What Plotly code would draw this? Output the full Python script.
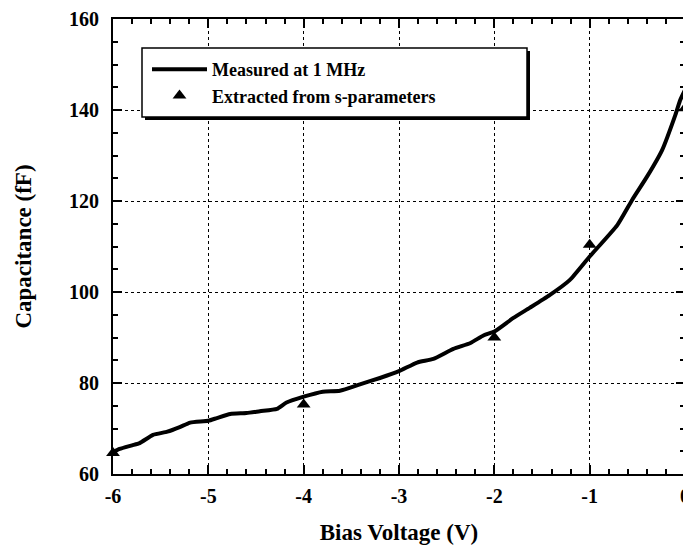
import plotly.graph_objects as go

# Measured at 1 MHz (bias voltage, capacitance)
meas_v = [-6.0, -5.93, -5.8, -5.72, -5.58, -5.43, -5.3, -5.19, -5.0, -4.91, -4.77, -4.6,
          -4.46, -4.28, -4.18, -4.0, -3.8, -3.62, -3.41, -3.2, -3.0, -2.81, -2.64, -2.43,
          -2.25, -2.11, -2.0, -1.8, -1.63, -1.42, -1.21, -1.0, -0.71, -0.55, -0.4, -0.24,
          -0.1, -0.05, 0.0]
meas_c = [64.8, 65.5, 66.3, 66.8, 68.6, 69.3, 70.3, 71.3, 71.7, 72.3, 73.2, 73.4,
          73.8, 74.3, 75.7, 77.0, 78.1, 78.3, 79.7, 81.1, 82.6, 84.5, 85.3, 87.5,
          88.8, 90.5, 91.3, 94.3, 96.5, 99.3, 102.6, 107.8, 114.7, 120.4, 125.3, 131.2,
          139.0, 142.2, 144.4]

# Extracted from s-parameters
ext_v = [-6, -4, -2, -1, 0]
ext_c = [64.6, 75.3, 90.0, 110.4, 140.4]

x_ticks = [-6, -5, -4, -3, -2, -1, 0]
y_ticks = [60, 80, 100, 120, 140, 160]

# the page body adds an 8 px offset, so the figure is sized to fit the window
OFF = 8
W, H = 691 - OFF, 559 - OFF
L, T = 113 - OFF, 19 - OFF
R = W - (685 - OFF)
B = H - (474 - OFF)
pw, ph = W - L - R, H - T - B

def px(x):  # screen pixel -> paper
    return (x - OFF - L) / pw

def py(y):
    return (H - B - (y - OFF)) / ph

FONT = "Liberation Serif"

fig = go.Figure()
fig.add_trace(go.Scatter(x=meas_v, y=meas_c, mode="lines", name="Measured at 1 MHz",
                         line=dict(color="black", width=4, shape="spline", smoothing=0.5)))
fig.add_trace(go.Scatter(x=ext_v, y=ext_c, mode="markers", name="Extracted from s-parameters",
                         marker=dict(symbol="triangle-up", size=12, color="black"),
                         cliponaxis=False))

axis_common = dict(
    showline=True, linecolor="black", linewidth=2, mirror="ticks",
    ticks="inside", ticklen=9, tickwidth=1.5, tickcolor="black",
    showgrid=True, gridcolor="black", gridwidth=1, griddash="dot",
    zeroline=False, automargin=False, ticklabeloverflow="allow",
    tickfont=dict(family=FONT, size=20, color="black", weight="bold"),
)

fig.update_xaxes(range=[-6, 0], tickvals=x_ticks, ticktext=[str(v) for v in x_ticks],
                 ticklabelstandoff=3,
                 minor=dict(dtick=0.2, ticks="inside", ticklen=5, tickwidth=1.5, tickcolor="black", showgrid=False),
                 title=dict(text="Bias Voltage (V)", standoff=18,
                            font=dict(family=FONT, size=23, color="black", weight="bold")),
                 **axis_common)
fig.update_yaxes(range=[60, 160], tickvals=y_ticks, ticktext=[str(v) for v in y_ticks],
                 ticklabelstandoff=8,
                 minor=dict(dtick=5, ticks="inside", ticklen=5, tickwidth=1.5, tickcolor="black", showgrid=False),
                 title=dict(text="Capacitance (fF)", standoff=31,
                            font=dict(family=FONT, size=23, color="black", weight="bold")),
                 **axis_common)

shapes = [
    dict(type="rect", xref="paper", yref="paper", layer="above",
         x0=px(145), x1=px(530), y0=py(51), y1=py(120),
         fillcolor="black", line=dict(width=0)),
    dict(type="rect", xref="paper", yref="paper", layer="above",
         x0=px(142), x1=px(527), y0=py(48), y1=py(117),
         fillcolor="white", line=dict(color="black", width=1.5)),
]

fig.update_layout(
    width=W, height=H,
    margin=dict(l=L, r=R, t=T, b=B),
    paper_bgcolor="white", plot_bgcolor="white",
    shapes=shapes,
    showlegend=True,
    legend=dict(x=px(147), y=py(51), xanchor="left", yanchor="top",
                bgcolor="rgba(0,0,0,0)", borderwidth=0, itemwidth=55,
                font=dict(family=FONT, size=18, color="black", weight="bold")),
)

fig.write_html("out.html")
